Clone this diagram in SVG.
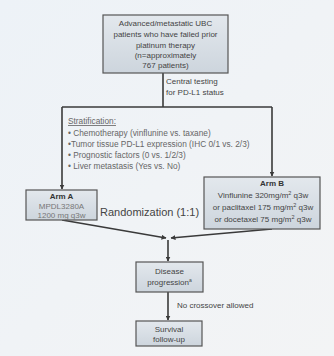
<svg xmlns="http://www.w3.org/2000/svg" width="334" height="356" viewBox="0 0 334 356">
<defs>
<linearGradient id="bg" x1="0" y1="0" x2="1" y2="1">
<stop offset="0" stop-color="#edf2f7"/>
<stop offset="1" stop-color="#f3f4f5"/>
</linearGradient>
<linearGradient id="box" x1="0" y1="0" x2="0" y2="1">
<stop offset="0" stop-color="#e3e8ed"/>
<stop offset="1" stop-color="#cdd5dd"/>
</linearGradient>
<marker id="ah" viewBox="0 0 10 10" refX="9" refY="5" markerWidth="5" markerHeight="5" orient="auto-start-reverse" markerUnits="userSpaceOnUse">
<path d="M0,0 L10,5 L0,10 z" fill="#3a3a3a"/>
</marker>
<style>
.box{fill:url(#box);stroke:#555;stroke-width:1.2}
.ln{fill:none;stroke:#3a3a3a;stroke-width:1.6}
text{font-family:"Liberation Sans","DejaVu Sans",sans-serif;font-size:8px;fill:#444}
.c{text-anchor:middle}
.b{font-weight:bold;fill:#333}
.g{fill:#777}
.s{fill:#666;font-size:8.3px}
</style>
</defs>
<rect width="334" height="356" fill="url(#bg)"/>
<g id="connectors">
<path class="ln" d="M163,73 V107"/>
<path class="ln" d="M62,107 H272"/>
<path class="ln" d="M62,107 V189" marker-end="url(#ah)"/>
<path class="ln" d="M272,107 V176" marker-end="url(#ah)"/>
<path class="ln" d="M62,220 L166,238" marker-end="url(#ah)"/>
<path class="ln" d="M272,229 L171,238" marker-end="url(#ah)"/>
<path class="ln" d="M168,240 V261" marker-end="url(#ah)"/>
<path class="ln" d="M168,292 V320" marker-end="url(#ah)"/>
</g>
<g id="start">
<rect class="box" x="103" y="15" width="125" height="58"/>
<text class="c" x="165.5" y="26">Advanced/metastatic UBC</text>
<text class="c" x="165.5" y="37">patients who have failed prior</text>
<text class="c" x="165.5" y="48">platinum therapy</text>
<text class="c" x="165.5" y="58">(n=approximately</text>
<text class="c" x="165.5" y="68">767 patients)</text>
</g>
<g id="central-testing">
<text x="166" y="84">Central testing</text>
<text x="166" y="95">for PD-L1 status</text>
</g>
<g id="stratification">
<text class="s" x="68" y="124" text-decoration="underline">Stratification:</text>
<text class="s" x="68" y="136">• Chemotherapy (vinflunine vs. taxane)</text>
<text class="s" x="68" y="147">•Tumor tissue PD-L1 expression (IHC 0/1 vs. 2/3)</text>
<text class="s" x="68" y="158">• Prognostic factors  (0 vs. 1/2/3)</text>
<text class="s" x="68" y="169">• Liver metastasis (Yes vs. No)</text>
</g>
<g id="arm-a">
<rect class="box" x="26" y="190" width="71" height="30"/>
<text class="c b" x="61.5" y="199">Arm A</text>
<text class="c g" x="61.5" y="209">MPDL3280A</text>
<text class="c g" x="61.5" y="218">1200 mg  q3w</text>
</g>
<g id="randomization">
<text x="100" y="216" style="font-size:11px;fill:#444">Randomization (1:1)</text>
</g>
<g id="arm-b">
<rect class="box" x="204" y="177" width="116" height="52"/>
<text class="c b" x="272" y="186">Arm B</text>
<text class="c" x="263" y="198">Vinflunine 320mg/m<tspan font-size="5.5" dy="-3">2</tspan><tspan dy="3"> q3w</tspan></text>
<text class="c" x="263" y="210">or paclitaxel 175 mg/m<tspan font-size="5.5" dy="-3">2</tspan><tspan dy="3"> q3w</tspan></text>
<text class="c" x="263" y="222">or docetaxel 75 mg/m<tspan font-size="5.5" dy="-3">2</tspan><tspan dy="3"> q3w</tspan></text>
</g>
<g id="disease-progression">
<rect class="box" x="136" y="262" width="67" height="30"/>
<text class="c" x="169.5" y="274">Disease</text>
<text class="c" x="169.5" y="285">progression<tspan font-size="5" dy="-3">a</tspan></text>
</g>
<g id="no-crossover">
<text x="177" y="308">No crossover allowed</text>
</g>
<g id="survival">
<rect class="box" x="136" y="321" width="66" height="25"/>
<text class="c" x="169" y="332">Survival</text>
<text class="c" x="169" y="342">follow-up</text>
</g>
</svg>
